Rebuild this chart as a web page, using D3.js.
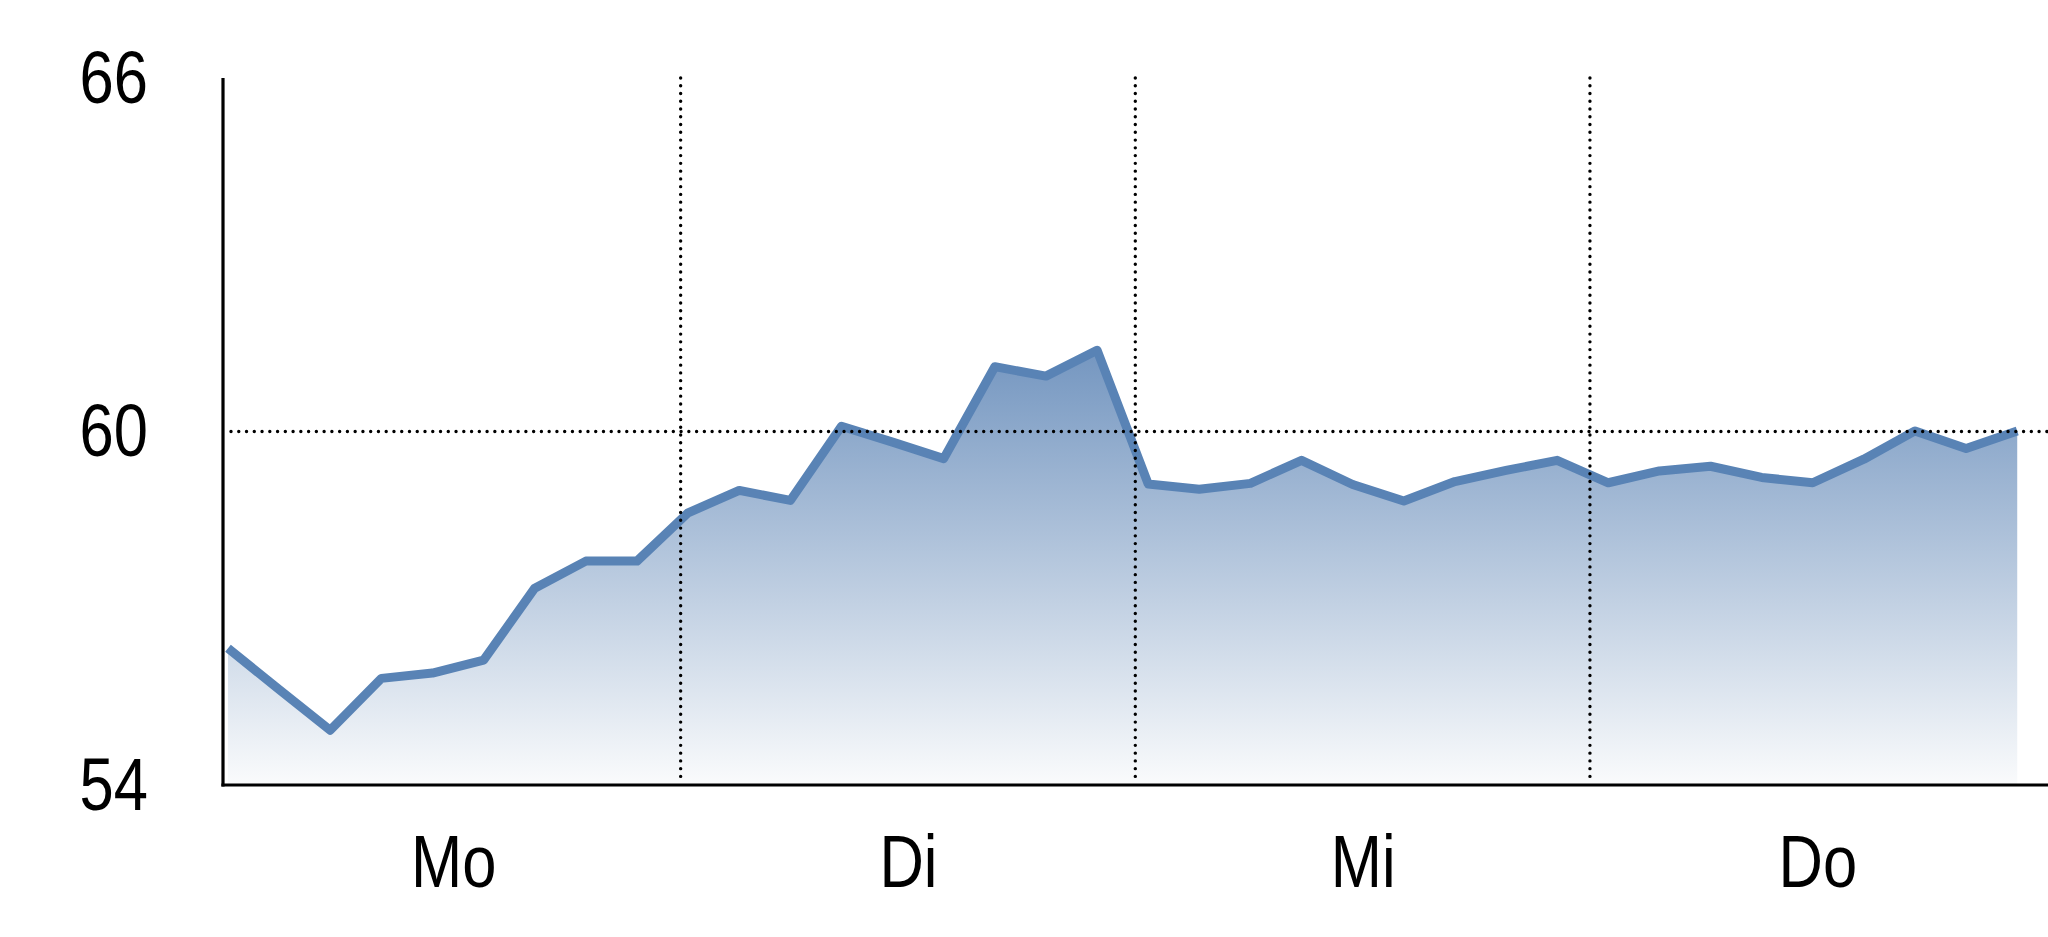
<!DOCTYPE html>
<html>
<head>
<meta charset="utf-8">
<script src="https://cdn.jsdelivr.net/npm/d3@7"></script>
<style>
  html, body { margin: 0; padding: 0; background: #ffffff; }
  svg { display: block; }
</style>
</head>
<body>
<svg id="chart" width="2048" height="937"></svg>
<script>
// ---- data ----
const dayLabels = ["Mo", "Di", "Mi", "Do"];
const yTicks = [54, 60, 66];
const refLine = 60;
// series values, one every ~0.112 day starting just after Monday 0:00
const values = [
  56.32, 55.62, 54.93, 55.81, 55.90, 56.12, 57.34, 57.80, 57.80,
  58.62, 59.00, 58.83, 60.09, 59.82, 59.54, 61.10, 60.94, 61.38,
  59.11, 59.02, 59.12, 59.51, 59.10, 58.82, 59.15, 59.34, 59.51,
  59.13, 59.33, 59.41, 59.22, 59.13, 59.53, 60.01, 59.71, 60.01
];
const startDay = 0.0044;
const stepDay = 0.11244;

(function () {
  const svg = d3.select("#chart");
  const axisLeftX = 223, axisRightX = 2048;
  const mLeft = 226, mRight = 2044.6, mTop = 78, mBottom = 785;
  const fontFamily = "'Liberation Sans Narrow', 'Arial Narrow', 'Liberation Sans', Arial, sans-serif";
  const fontSize = 75;

  const x = d3.scaleLinear().domain([0, dayLabels.length]).range([mLeft, mRight]);
  const y = d3.scaleLinear().domain([54, 66]).range([mBottom, mTop]);

  const data = values.map((v, i) => ({ t: startDay + i * stepDay, v }));

  // gradient
  const defs = svg.append("defs");
  const grad = defs.append("linearGradient")
    .attr("id", "areaGrad").attr("x1", 0).attr("y1", 0).attr("x2", 0).attr("y2", 1);
  grad.append("stop").attr("offset", "0%").attr("stop-color", "#7496c0");
  grad.append("stop").attr("offset", "100%").attr("stop-color", "#fafbfc");

  // area
  const area = d3.area().x(d => x(d.t)).y0(y(54)).y1(d => y(d.v));
  svg.append("path").datum(data).attr("d", area).attr("fill", "url(#areaGrad)");

  // line
  const line = d3.line().x(d => x(d.t)).y(d => y(d.v));
  svg.append("path").datum(data).attr("d", line)
    .attr("fill", "none").attr("stroke", "#5983b5").attr("stroke-width", 9)
    .attr("stroke-linejoin", "round");

  // dotted grid lines
  const grid = svg.append("g").attr("stroke", "#000").attr("stroke-width", 3.4)
    .attr("stroke-linecap", "round")
    .attr("stroke-dasharray", "0.01 7.75").attr("fill", "none");
  grid.append("line")
    .attr("x1", axisLeftX + 8).attr("x2", axisRightX).attr("y1", y(refLine)).attr("y2", y(refLine));
  grid.selectAll("line.v").data(d3.range(1, dayLabels.length)).join("line")
    .attr("class", "v")
    .attr("x1", d => x(d)).attr("x2", d => x(d)).attr("y1", mTop).attr("y2", mBottom - 2);

  // axes
  const yAxis = d3.axisLeft(y).tickValues(yTicks).tickSize(0).tickSizeOuter(0).tickPadding(75)
    .tickFormat(d3.format("d"));
  const xAxis = d3.axisBottom(x).tickValues(dayLabels.map((_, i) => i + 0.5))
    .tickFormat((d, i) => dayLabels[i]).tickSize(0).tickSizeOuter(0).tickPadding(49);

  const gy = svg.append("g").attr("transform", `translate(${axisLeftX},0)`).call(yAxis);
  const gx = svg.append("g").attr("transform", `translate(0,${mBottom})`).call(xAxis);

  [gx, gy].forEach(g => {
    g.select(".domain").attr("stroke", "#000").attr("stroke-width", 3.2);
    g.selectAll("text").attr("font-family", fontFamily).attr("font-size", fontSize).attr("fill", "#000");
  });
  gy.select(".domain").attr("d", `M0,${mTop}V${mBottom + 1.6}`);
  gx.select(".domain").attr("d", `M${axisLeftX - 1.6},0H${axisRightX}`);

  // if no narrow face is installed, compress the regular face horizontally
  const probe = gx.select("text").node();
  const w = probe.getComputedTextLength();
  if (w > 95) {
    const k = 0.82;
    gx.selectAll("text").attr("transform", `scale(${k},1)`);
    gy.selectAll("text").attr("x", -75 / k).attr("transform", `scale(${k},1)`);
  }
})();
</script>
</body>
</html>
